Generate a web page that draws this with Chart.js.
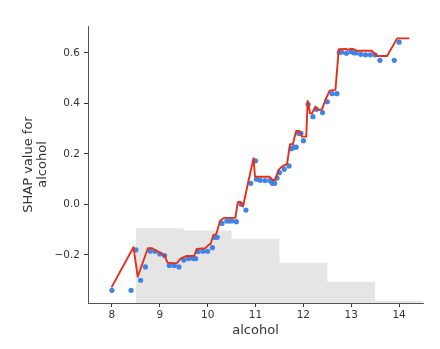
<!DOCTYPE html>
<html>
<head>
<meta charset="utf-8">
<script src="https://cdn.jsdelivr.net/npm/chart.js@4/dist/chart.umd.min.js"></script>
<style>
  html, body { margin: 0; padding: 0; background: #fff; }
  #wrap { width: 440px; height: 349px; }
</style>
</head>
<body>
<div id="wrap"><canvas id="shapChart" width="440" height="349"></canvas></div>
<script>
// SHAP values per sample (alcohol)
const shapX = [8.00, 8.40, 8.50, 8.60, 8.70, 8.80, 8.90, 9.00, 9.10, 9.20, 9.30, 9.40,
  9.50, 9.60, 9.70, 9.75, 9.80, 9.90, 10.00, 10.10, 10.15, 10.20, 10.30, 10.40, 10.45,
  10.50, 10.60, 10.70, 10.80, 10.90, 11.00, 11.02, 11.10, 11.20, 11.30, 11.35, 11.40,
  11.45, 11.50, 11.60, 11.70, 11.75, 11.80, 11.85, 11.90, 11.95, 12.00, 12.10, 12.20,
  12.27, 12.40, 12.50, 12.60, 12.70, 12.75, 12.80, 12.90, 13.00, 13.05, 13.10, 13.20,
  13.30, 13.40, 13.50, 13.60, 13.90, 14.00];
const shapY = [-0.341, -0.341, -0.181, -0.301, -0.248, -0.186, -0.186, -0.197, -0.203,
  -0.242, -0.242, -0.248, -0.221, -0.215, -0.215, -0.215, -0.187, -0.186, -0.186, -0.172,
  -0.131, -0.131, -0.076, -0.066, -0.066, -0.066, -0.069, 0.000, -0.023, 0.083, 0.172,
  0.099, 0.095, 0.094, 0.094, 0.083, 0.083, 0.104, 0.125, 0.139, 0.152, 0.220, 0.226,
  0.226, 0.281, 0.281, 0.252, 0.396, 0.347, 0.376, 0.363, 0.406, 0.438, 0.438, 0.602,
  0.602, 0.598, 0.604, 0.600, 0.599, 0.594, 0.592, 0.592, 0.592, 0.570, 0.570, 0.642];

// partial dependence curve
const pdX = [8.00, 8.45, 8.54, 8.75, 8.84, 8.92, 9.04, 9.11, 9.16, 9.35, 9.44, 9.55, 9.72,
  9.77, 9.95, 10.02, 10.06, 10.12, 10.18, 10.26, 10.34, 10.58, 10.63, 10.68, 10.74, 10.85,
  10.96, 10.99, 11.29, 11.36, 11.41, 11.48, 11.55, 11.66, 11.72, 11.78, 11.85, 11.92,
  11.97, 12.06, 12.09, 12.14, 12.18, 12.25, 12.32, 12.39, 12.46, 12.55, 12.67, 12.74,
  12.90, 12.93, 12.98, 13.05, 13.12, 13.43, 13.54, 13.75, 13.96, 14.20];
const pdY = [-0.326, -0.170, -0.287, -0.174, -0.174, -0.184, -0.194, -0.207, -0.231, -0.234,
  -0.214, -0.205, -0.205, -0.177, -0.174, -0.161, -0.158, -0.122, -0.118, -0.065, -0.054,
  -0.054, 0.008, 0.010, -0.009, 0.090, 0.182, 0.109, 0.109, 0.096, 0.096, 0.136, 0.149,
  0.160, 0.238, 0.238, 0.290, 0.290, 0.268, 0.268, 0.409, 0.360, 0.360, 0.387, 0.373,
  0.376, 0.413, 0.450, 0.453, 0.614, 0.615, 0.611, 0.616, 0.614, 0.608, 0.608, 0.587,
  0.587, 0.657, 0.657];

// histogram of alcohol (share of samples, %)
const histEdges = [8.5, 9.5, 10.5, 11.5, 12.5, 13.5, 14.5];
const histShare = [27.0, 26.2, 23.2, 14.5, 7.7, 0.8];

const xTicks = [8, 9, 10, 11, 12, 13, 14];
const yTicks = [-0.2, 0.0, 0.2, 0.4, 0.6];

const scatterPts = shapX.map((x, i) => ({ x: x, y: shapY[i] }));
const pdPts = pdX.map((x, i) => ({ x: x, y: pdY[i] }));
const histPts = histShare.map((v, i) => ({ x: histEdges[i], y: v }));
histPts.push({ x: histEdges[histEdges.length - 1], y: histShare[histShare.length - 1] });

const font = 'DejaVu Sans';
const ink = '#333333';

const ctx = document.getElementById('shapChart').getContext('2d');
new Chart(ctx, {
  type: 'scatter',
  data: {
    datasets: [
      {
        type: 'line',
        data: pdPts,
        borderColor: '#e62e1b',
        borderWidth: 1.9,
        borderJoinStyle: 'round',
        borderCapStyle: 'round',
        pointRadius: 0,
        tension: 0,
        order: 0
      },
      {
        data: scatterPts,
        backgroundColor: '#3f84e6',
        borderWidth: 0,
        pointRadius: 2.6,
        order: 1
      },
      {
        type: 'line',
        data: histPts,
        yAxisID: 'y2',
        stepped: 'before',
        borderWidth: 0,
        pointRadius: 0,
        fill: 'origin',
        backgroundColor: 'rgba(0,0,0,0.1)',
        order: 2
      }
    ]
  },
  options: {
    responsive: false,
    animation: false,
    layout: { padding: { top: 26, right: 17, left: 0, bottom: 0 } },
    plugins: { legend: { display: false }, tooltip: { enabled: false } },
    scales: {
      x: {
        type: 'linear',
        min: 7.5,
        max: 14.5,
        afterBuildTicks: scale => { scale.ticks = xTicks.map(v => ({ value: v })); },
        afterFit: scale => { scale.height = 46; },
        grid: { display: true, drawOnChartArea: false, drawTicks: true, tickLength: 4, tickColor: ink },
        border: { display: true, color: '#555555', width: 1 },
        ticks: { color: ink, padding: 2, font: { family: font, size: 10.5 }, callback: v => String(v) },
        title: {
          display: true,
          text: 'alcohol',
          color: ink,
          font: { family: font, size: 13, lineHeight: 1.15 },
          padding: { top: 0, bottom: 11 }
        }
      },
      y: {
        type: 'linear',
        min: -0.391,
        max: 0.706,
        afterBuildTicks: scale => { scale.ticks = yTicks.map(v => ({ value: v })); },
        afterFit: scale => { scale.width = 88; },
        grid: { display: true, drawOnChartArea: false, drawTicks: true, tickLength: 4, tickColor: ink },
        border: { display: true, color: '#555555', width: 1 },
        ticks: {
          color: ink,
          padding: 4,
          font: { family: font, size: 10.5 },
          callback: v => v.toFixed(1).replace('-', '\u2212')
        },
        title: {
          display: true,
          text: ['SHAP value for', 'alcohol'],
          color: ink,
          font: { family: font, size: 13, lineHeight: 1.1 },
          padding: { top: 21, bottom: 0 }
        }
      },
      y2: {
        type: 'linear',
        display: false,
        min: 0,
        max: 100
      }
    }
  }
});
</script>
</body>
</html>
